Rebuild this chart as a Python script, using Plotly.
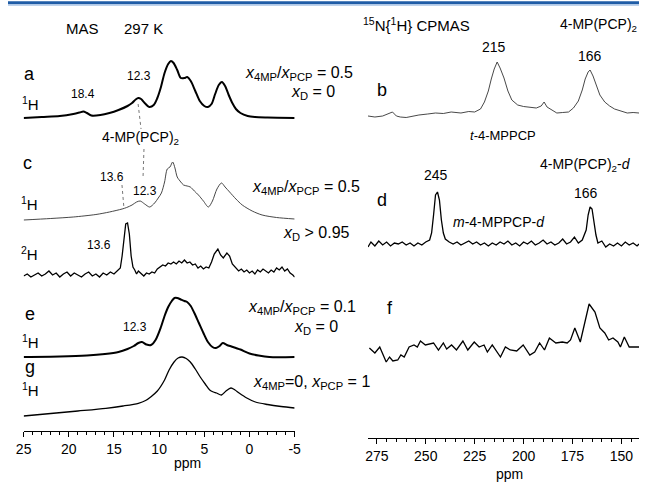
import plotly.graph_objects as go

W, H = 645, 484
FONT = "Liberation Sans, Arial, sans-serif"

# ---------------- data: 1H / 2H MAS spectra (ppm, relative intensity) -------------
A_PPM = [25, 23, 21, 19.5, 18.8, 18.4, 18.0, 17.5, 16.5, 15.5, 14.5, 13.5, 13.0, 12.6, 12.3, 12.0,
         11.6, 11.1, 10.6, 10.2, 9.8, 9.4, 9.0, 8.7, 8.4, 8.0, 7.6, 7.2, 6.9, 6.5, 6.0, 5.5, 5.0,
         4.6, 4.2, 3.8, 3.4, 3.05, 2.7, 2.3, 1.9, 1.5, 1.0, 0.2, -0.6, -2, -5]
A_INT = [0, 1, 2, 4, 5.5, 6.5, 5, 2.5, 3, 5, 8, 12, 15, 18.5, 20, 19,
         15, 11, 13, 20, 31, 45, 54, 57, 55, 48, 40, 40, 41, 37, 27, 17, 12,
         11, 14, 24, 33, 36, 32, 23, 15, 9, 5, 2, 1, 0.5, 0]

C_PPM = [25, 22, 19.5, 17, 15.5, 14.1, 13.6, 13.0, 12.5, 12.1, 11.6, 11.05, 10.5, 10.1, 9.75, 9.4,
         9.1, 8.8, 8.5, 8.25, 8.0, 7.6, 7.3, 6.9, 6.55, 6.1, 5.65, 5.1, 4.55, 4.1, 3.6, 3.1, 2.7,
         2.2, 1.5, 0.8, -0.3, -1.4, -3, -5]
C_INT = [0, 1.5, 3, 5.5, 8, 11, 12.5, 15, 18, 19, 16, 13, 17, 22, 27, 38,
         51, 53, 58, 52, 43, 38, 35, 34, 33, 29, 25, 19, 13, 19, 31, 37, 33,
         28, 21, 15, 9, 5, 2.5, 1]

D2_PPM = [25.0, 24.6, 24.2, 23.8, 23.4, 23.0, 22.6, 22.2, 21.8, 21.4, 21.0, 20.6, 20.2, 19.8, 19.4,
          19.0, 18.6, 18.2, 17.8, 17.4, 17.0, 16.6, 16.2, 15.8, 15.4, 15.0, 14.6, 14.3, 14.1, 13.9,
          13.7, 13.5, 13.3, 13.1, 12.9, 12.7, 12.5, 12.3, 12.0, 11.7, 11.4, 11.1, 10.8, 10.5, 10.2,
          9.9, 9.6, 9.3, 9.0, 8.7, 8.4, 8.1, 7.8, 7.5, 7.2, 6.9, 6.6, 6.3, 6.0, 5.7, 5.4, 5.1, 4.8,
          4.5, 4.2, 3.9, 3.5, 3.2, 2.9, 2.5, 2.2, 1.9, 1.5, 1.2, 0.9, 0.6, 0.3, 0.0, -0.3, -0.6,
          -0.9, -1.2, -1.5, -1.8, -2.1, -2.4, -2.7, -3.0, -3.3, -3.6, -3.9, -4.2, -4.5, -4.8, -5.0]
D2_INT = [0, 2, -1, 1, 3, 0, 2, 5, 1, 3, -1, 2, 4, 0, 3,
          1, -1, 2, 4, 0, 2, -1, 3, 1, 4, 2, 5, 8, 20, 40,
          52, 53, 42, 20, 9, 6, 2, 5, 2, 0, 3, 2, 4, 3, 7,
          9, 11, 10, 13, 12, 14, 12, 15, 13, 16, 13, 14, 11, 12, 8, 10, 7, 9,
          8, 14, 22, 27, 21, 18, 23, 20, 12, 8, 5, 7, 4, 6, 3, 5, 2,
          6, 4, 7, 5, 3, 6, 4, 8, 6, 9, 5, 7, 3, 1, -1]

E_PPM = [25, 21, 18, 16, 14.5, 13.5, 12.8, 12.3, 11.9, 11.4, 10.9, 10.4, 9.8, 9.4, 9.0, 8.6, 8.3,
         8.0, 7.6, 7.2, 6.9, 6.5, 6.1, 5.6, 5.1, 4.6, 4.1, 3.7, 3.3, 2.95, 2.5, 2.0, 1.5, 1.0,
         0.0, -1, -2.2, -5]
E_INT = [0, 0.5, 1.5, 3, 5, 8, 11, 14, 15, 12.5, 12, 17, 30, 41, 50, 56, 59,
         59, 57.5, 56, 55, 51, 44, 34, 24, 15, 10, 9, 11, 14, 12, 10.5, 9, 7.5,
         3.5, 1.5, 0, 0]

G_PPM = [25, 22, 19, 15.9, 14, 12.3, 11.5, 10.9, 10.2, 9.4, 8.9, 8.35, 7.9, 7.45, 7.0, 6.55, 6.0,
         5.45, 4.9, 4.4, 4.0, 3.65, 3.1, 2.6, 2.05, 1.6, 1.15, 0.3, -0.65, -2, -3.5, -5]
G_INT = [0, 2.5, 5, 7.7, 10, 12.7, 15.5, 19.3, 25, 36, 46, 54, 58, 59, 57.5, 54, 47,
         39, 32, 26, 24, 23, 21, 25, 28, 26, 23, 18, 14, 11.5, 9.5, 8]

# ---------------- data: 15N{1H} CPMAS spectra -------------
B_PPM = [279.5, 276, 272, 269, 267, 265, 263, 260, 256.5, 253.5, 249, 245, 241, 237, 232, 228,
         225, 222, 220, 218, 216.5, 215, 213.5, 212, 210, 208, 206, 203, 200, 197, 193.5, 191,
         189.5, 188, 185.5, 183, 180, 177, 174.5, 172, 170, 168.5, 167, 166, 164.5, 163, 161,
         158.5, 156, 153.5, 150, 147, 144, 141]
B_INT = [-1, -2, -1, 1, 3, -1, -2, -2.5, -1, 0, 1, 2, 1.5, 3, 2, 3.5,
         3, 6, 13, 24, 36, 46, 53, 47, 37, 24, 15, 10, 8.5, 8, 7, 9,
         13, 8, 5, 2, 2.5, 3, 7, 14, 25, 36, 43, 45, 39, 30, 20,
         13, 9, 6, 3.5, 2, 2.5, 2]

DN_PPM = [279.5, 278, 276, 274, 272, 270, 268, 266, 264, 262, 260, 258, 256, 254, 252, 250, 248,
          247, 246, 245, 244, 243, 242, 241, 240, 238, 236, 234, 232, 230, 228, 226, 224, 222,
          220, 218, 216, 214, 212, 210, 208, 206, 204, 202, 200, 198, 196, 194, 192, 190, 188,
          186, 184, 182, 180, 178, 176, 174, 172, 170, 168, 167, 166, 165, 164, 163, 162, 160,
          158, 156, 154, 152, 150, 148, 146, 144, 142, 141]
DN_INT = [-2, 3, -1, 4, 0, 3, -1, 2, 1, 3, 0, 2, -1, 2, 0, 3, 5,
          12, 30, 50, 53, 45, 25, 12, 6, 3, 1, 3, 0, 2, 4, 1, 3, 0,
          2, -1, 2, 0, 3, 1, 4, 0, 2, -1, 3, 1, 4, 0, 2, 5, 1,
          3, 0, 2, 6, 1, 3, 8, 2, 5, 15, 30, 38, 36, 22, 10, 2, 4,
          -2, 1, -1, 2, -1, 3, 0, 2, -1, 1]

F_PPM = [278.8, 276, 273.5, 270.2, 268.5, 266.8, 264.3, 262.7, 261, 258.5, 256, 254.3, 252.7,
         250.2, 246, 243.5, 241, 239.3, 236.8, 234.3, 231, 228.5, 225.2, 222.7, 220.2, 218.5,
         216, 211.8, 209.3, 206.8, 203.5, 200.2, 196.8, 194.3, 191.8, 189.3, 186.8, 183.5,
         180.2, 177.7, 176, 173.8, 171, 168.5, 166.5, 163.5, 161, 158.5, 156.5, 154.3, 151.8,
         150.5, 148.5, 146, 143.5, 141]
F_INT = [0, -5, 1, -14, -9, -13, -12, -7, -9, 1, 3, 1, 7,
         3, 5, -2, 5, -1, 3, -2, 7, -2, 6, 1, 3, -4,
         3, -9, 1, -2, -3, 3, -7, -4, 5, -2, 10, 5,
         6, 5, 8, 20, 6, 28, 44, 36, 20, 15, 8, 10, 6,
         1, 11, 1, 1, 1]

LEFT_TICKS = [25, 20, 15, 10, 5, 0, -5]
LEFT_TICKTEXT = ["25", "20", "15", "10", "5", "0", "-5"]
RIGHT_TICKS = [275, 250, 225, 200, 175, 150]
RIGHT_TICKTEXT = ["275", "250", "225", "200", "175", "150"]

# ---------------- layout constants (page pixel rows of spectrum baselines) -------------
LEFT_AXIS_PX = 431
RIGHT_AXIS_PX = 438

fig = go.Figure()


def spec(ppm, inten, base, axis, width, color="black", shape="spline"):
    xa, ya = ("x", "y") if axis == 1 else ("x2", "y2")
    fig.add_trace(go.Scatter(
        x=ppm, y=[base - v for v in inten], mode="lines", xaxis=xa, yaxis=ya,
        line=dict(color=color, width=width, shape=shape, smoothing=0.8 if shape == "spline" else None),
        hoverinfo="skip", showlegend=False))


spec(A_PPM, A_INT, 118, 1, 2.0)
spec(C_PPM, C_INT, 220, 1, 0.9, color="#333333")
spec(D2_PPM, D2_INT, 276, 1, 1.3, shape="linear")
spec(E_PPM, E_INT, 357, 1, 2.0)
spec(G_PPM, G_INT, 416, 1, 1.3)
spec(B_PPM, B_INT, 115, 2, 0.9, color="#333333", shape="linear")
spec(DN_PPM, DN_INT, 245, 2, 1.3, shape="linear")
spec(F_PPM, F_INT, 348, 2, 1.3, shape="linear")

ann = []


def txt(px, py, s, size=14, anchor="center"):
    ann.append(dict(xref="paper", yref="paper", x=px / W, y=1 - py / H, text=s,
                    showarrow=False, xanchor=anchor, yanchor="middle",
                    font=dict(family=FONT, size=size, color="black")))


ratio = "<i>x</i><sub>4MP</sub>/<i>x</i><sub>PCP</sub> = "
# left column labels
txt(76, 28, "MAS", 15)
txt(138, 28, "297 K", 15)
txt(22, 74, "a", 18)
txt(23, 103, "<sup>1</sup>H", 15)
txt(77, 94, "18.4", 12)
txt(134, 76, "12.3", 12)
txt(135, 138, "4-MP(PCP)<sub>2</sub>", 14)
txt(20, 163, "c", 18)
txt(106, 177, "13.6", 12)
txt(140, 191, "12.3", 12)
txt(22, 203, "<sup>1</sup>H", 15)
txt(22, 253, "<sup>2</sup>H", 15)
txt(93, 245, "13.6", 12)
txt(22, 314, "e", 18)
txt(130, 327, "12.3", 12)
txt(23, 341, "<sup>1</sup>H", 15)
txt(22, 367, "g", 18)
txt(23, 389, "<sup>1</sup>H", 15)
txt(183, 463, "ppm", 14)

# middle condition labels
txt(240, 73, ratio + "0.5", 16, "left")
txt(287, 93, "<i>x</i><sub>D</sub> = 0", 16, "left")
txt(247, 187, ratio + "0.5", 16, "left")
txt(279, 233, "<i>x</i><sub>D</sub> > 0.95", 16, "left")
txt(243, 307, ratio + "0.1", 16, "left")
txt(290, 327, "<i>x</i><sub>D</sub> = 0", 16, "left")
txt(248, 382, "<i>x</i><sub>4MP</sub>=0, <i>x</i><sub>PCP</sub> = 1", 16, "left")

# right column labels
txt(418, 25, "<sup>15</sup>N{<sup>1</sup>H} CPMAS", 15)
txt(604, 25, "4-MP(PCP)<sub>2</sub>", 14)
txt(497, 47, "215", 14)
txt(595, 56, "166", 14)
txt(382, 90, "b", 18)
txt(506, 135, "<i>t</i>-4-MPPCP", 13)
txt(438, 175, "245", 14)
txt(590, 165, "4-MP(PCP)<sub>2</sub>-<i>d</i>", 14)
txt(382, 200, "d", 18)
txt(591, 193, "166", 14)
txt(502, 222, "<i>m</i>-4-MPPCP-<i>d</i>", 14)
txt(390, 308, "f", 18)
txt(513, 474, "ppm", 14)

shapes = []


def dotted(x0, y0, x1, y1):
    shapes.append(dict(type="line", xref="paper", yref="paper", x0=x0 / W, x1=x1 / W,
                       y0=1 - y0 / H, y1=1 - y1 / H, line=dict(color="#777777", width=1, dash="dot")))


dotted(133, 104, 136, 129)
dotted(139, 149, 138, 178)
dotted(116.5, 185, 118.5, 208)

# top blue rule (drawn as thick lines just below the top edge)
shapes.append(dict(type="line", xref="paper", yref="paper", x0=0, x1=1, y0=1 - 2.8 / H, y1=1 - 2.8 / H,
                   line=dict(color="#1f5ca6", width=3), layer="above"))
shapes.append(dict(type="line", xref="paper", yref="paper", x0=0, x1=1, y0=1 - 5.0 / H, y1=1 - 5.0 / H,
                   line=dict(color="#a9c3e4", width=1.5), layer="above"))

axis_common = dict(showgrid=False, zeroline=False, showline=True, linecolor="black", linewidth=1,
                   ticks="outside", ticklen=5, tickwidth=1, tickcolor="black",
                   tickfont=dict(family=FONT, size=14, color="black"), tickmode="array")

fig.update_layout(
    width=W, height=H, margin=dict(l=0, r=0, t=0, b=0),
    paper_bgcolor="white", plot_bgcolor="rgba(0,0,0,0)",
    xaxis=dict(domain=[16 / W, 293 / W], range=[25, -5], anchor="y",
               tickvals=LEFT_TICKS, ticktext=LEFT_TICKTEXT,
               minor=dict(tickmode="linear", tick0=0, dtick=1, ticks="outside", ticklen=3,
                          tickwidth=1, tickcolor="black"),
               **axis_common),
    yaxis=dict(domain=[(H - LEFT_AXIS_PX) / H, 1], range=[LEFT_AXIS_PX, 0], visible=False),
    xaxis2=dict(domain=[368 / W, 1], range=[279.5, 141], anchor="y2",
                tickvals=RIGHT_TICKS, ticktext=RIGHT_TICKTEXT,
                minor=dict(tickmode="linear", tick0=0, dtick=5, ticks="outside", ticklen=3,
                           tickwidth=1, tickcolor="black"),
                **axis_common),
    yaxis2=dict(domain=[(H - RIGHT_AXIS_PX) / H, 1], range=[RIGHT_AXIS_PX, 0], visible=False,
                anchor="x2"),
    annotations=ann, shapes=shapes, showlegend=False,
)

# remove the browser's default 8px body margin so the figure starts at the window corner
fig.write_html("out.html", config={"displayModeBar": False},
               post_script="document.body.style.margin='0';")
